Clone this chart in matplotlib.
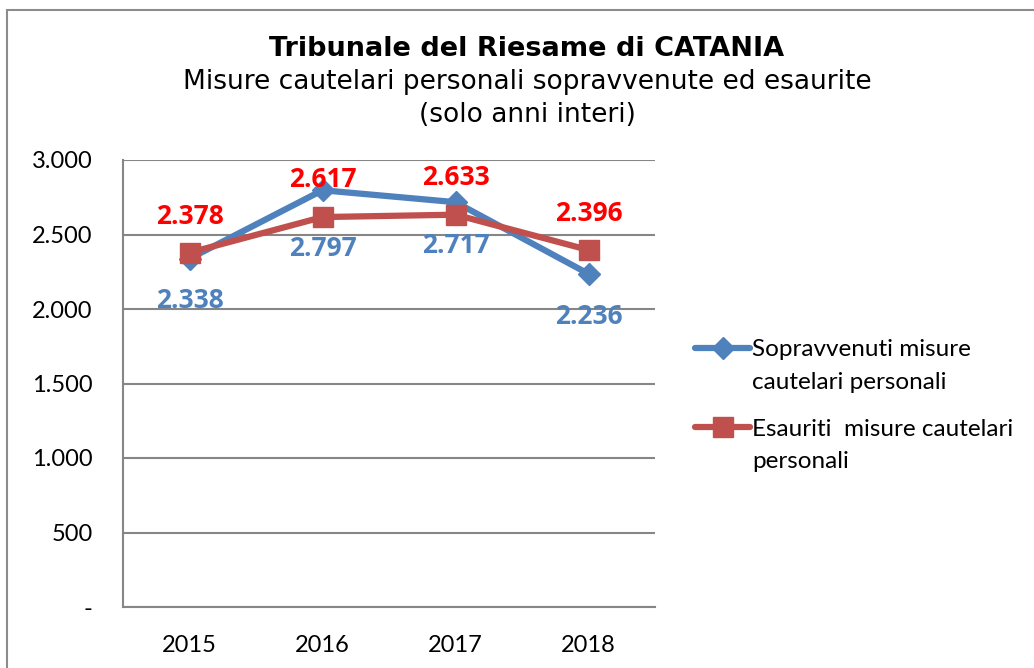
import numpy as np
import matplotlib
matplotlib.use("Agg")
import matplotlib.pyplot as plt
from matplotlib.patches import Rectangle
from matplotlib.lines import Line2D
from matplotlib.ticker import FuncFormatter

years = ["2015", "2016", "2017", "2018"]
sopravvenuti = [2338, 2797, 2717, 2236]
esauriti = [2378, 2617, 2633, 2396]
label_sopr = ["Sopravvenuti misure", "cautelari personali"]
label_esau = ["Esauriti  misure cautelari", "personali"]

blue = "#4F81BD"
red = "#C0504D"
grid_c = "#868686"
W, H = 1034, 668

fig = plt.figure(figsize=(W / 100, H / 100), dpi=100)
ax = fig.add_axes([123 / W, 1 - 607 / H, (655 - 123) / W, (607 - 160) / H])

# chart border (only top/left visible)
fig.patches.append(Rectangle((7 / W, -0.1), 1.2, 1.1 - 10 / H,
                             transform=fig.transFigure, fill=False,
                             edgecolor="#8c8c8c", linewidth=1.5))

def fmt(v):
    return f"{int(v):,}".replace(",", ".")

x = np.arange(len(years))
ax.plot(x, sopravvenuti, color=blue, lw=4.5, marker="D", ms=11.5,
        solid_joinstyle="round", solid_capstyle="round", zorder=3)
ax.plot(x, esauriti, color=red, lw=4.5, marker="s", ms=15,
        solid_joinstyle="round", solid_capstyle="round", zorder=4)

# label offsets in points (blue below, red above)
blue_off = [-30, -42, -31, -31]
red_off = [26, 27, 27, 26]
lbl_font = dict(family="Open Sans", fontsize=19, fontweight="bold")
for i in x:
    ax.annotate(fmt(sopravvenuti[i]), (i, sopravvenuti[i]),
                xytext=(0, blue_off[i]), textcoords="offset points", ha="center", va="center",
                color=blue, **lbl_font)
    ax.annotate(fmt(esauriti[i]), (i, esauriti[i]),
                xytext=(0, red_off[i]), textcoords="offset points", ha="center", va="center",
                color="#FF0000", **lbl_font)

ax.set_xlim(-0.5, 3.5)
ax.set_ylim(0, 3000)
ax.set_yticks(np.arange(0, 3001, 500))
ax.yaxis.set_major_formatter(FuncFormatter(lambda v, p: "-" if v == 0 else fmt(v)))
ax.set_xticks(x)
ax.set_xticklabels(years)
ax.grid(axis="y", color=grid_c, lw=1.5)
ax.set_axisbelow(True)
for s in ["top", "right"]:
    ax.spines[s].set_visible(False)
for s in ["left", "bottom"]:
    ax.spines[s].set_color(grid_c)
    ax.spines[s].set_linewidth(1.5)
ax.tick_params(length=0, labelsize=17)
ax.tick_params(axis="y", pad=22)
ax.tick_params(axis="x", pad=20)
for t in ax.get_xticklabels() + ax.get_yticklabels():
    t.set_family("Lato")

fig.text(527 / W, 1 - 49 / H, "Tribunale del Riesame di CATANIA", ha="center", va="center",
         fontsize=19.5, fontweight="bold", family="DejaVu Sans")
fig.text(527 / W, 1 - 82 / H, "Misure cautelari personali sopravvenute ed esaurite",
         ha="center", va="center", fontsize=19, family="DejaVu Sans")
fig.text(527 / W, 1 - 115 / H, "(solo anni interi)",
         ha="center", va="center", fontsize=19, family="DejaVu Sans")

# legend: sample aligned with first text line, as in the original
for y0, col, mk, ms, lab in [(348, blue, "D", 11.5, label_sopr), (427, red, "s", 15, label_esau)]:
    fig.add_artist(Line2D([695 / W, 750 / W], [1 - y0 / H] * 2, color=col, lw=4.5,
                          solid_capstyle="round", transform=fig.transFigure))
    fig.add_artist(Line2D([722.5 / W], [1 - y0 / H], color=col, marker=mk, ms=ms,
                          transform=fig.transFigure))
    for k, line in enumerate(lab):
        fig.text(752 / W, 1 - (y0 + 32 * k) / H, line, ha="left", va="center_baseline",
                 fontsize=17.5, family="Lato")

fig.savefig("out.png", dpi=100)
